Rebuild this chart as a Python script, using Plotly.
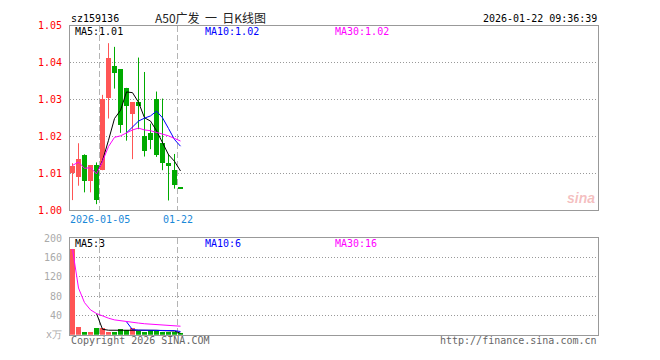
import plotly.graph_objects as go

# ---------------- data ----------------
dates = ["2025-12-25", "2025-12-26", "2025-12-29", "2025-12-30", "2025-12-31",
         "2026-01-05", "2026-01-06", "2026-01-07", "2026-01-08", "2026-01-09",
         "2026-01-12", "2026-01-13", "2026-01-14", "2026-01-15", "2026-01-16",
         "2026-01-19", "2026-01-20", "2026-01-21", "2026-01-22"]
open_ = [1.0102, 1.0091, 1.0152, 1.0080, 1.0124, 1.0111, 1.0304, 1.0393, 1.0383, 1.0332,
         1.0262, 1.0293, 1.0201, 1.0211, 1.0303, 1.0182, 1.0130, 1.0111, 1.0061]
high = [1.0128, 1.0182, 1.0152, 1.0123, 1.0130, 1.0313, 1.0453, 1.0443, 1.0383, 1.0332,
        1.0293, 1.0414, 1.0375, 1.0235, 1.0322, 1.0303, 1.0153, 1.0153, 1.0061]
low = [1.0028, 1.0067, 1.0049, 1.0049, 1.0017, 1.0109, 1.0249, 1.0330, 1.0210, 1.0189,
       1.0139, 1.0220, 1.0146, 1.0166, 1.0145, 1.0109, 1.0027, 1.0059, 1.0061]
close = [1.0122, 1.0140, 1.0080, 1.0123, 1.0030, 1.0303, 1.0414, 1.0374, 1.0233, 1.0283,
         1.0293, 1.0283, 1.0161, 1.0190, 1.0151, 1.0130, 1.0122, 1.0070, 1.0061]
ma5 = [None, None, None, None, 1.0099, 1.0135, 1.0190, 1.0249, 1.0271, 1.0321,
       1.0319, 1.0293, 1.0251, 1.0242, 1.0216, 1.0183, 1.0151, 1.0133, 1.0107]
ma10 = [None, None, None, None, None, None, None, None, None, 1.0210,
        1.0227, 1.0242, 1.0250, 1.0256, 1.0269, 1.0251, 1.0222, 1.0192, 1.0174]
ma30 = [1.0122, 1.0131, 1.0114, 1.0116, 1.0099, 1.0133, 1.0173, 1.0198, 1.0202, 1.0210,
        1.0218, 1.0223, 1.0218, 1.0216, 1.0212, 1.0207, 1.0202, 1.0195, 1.0188]

volume = [177, 16, 6, 6, 14, 14, 6, 6, 12, 9, 14, 8, 6, 9, 8, 6, 6, 6, 3]
vma5 = [None, None, None, None, 43.8, 11.2, 9.2, 9.2, 10.4, 9.4,
        9.4, 9.8, 9.8, 9.2, 9.0, 8.4, 8.0, 7.6, 3.0]
vma10 = [None, None, None, None, None, None, None, None, None, 26.6,
         10.3, 9.5, 9.5, 9.8, 9.2, 8.4, 8.4, 8.4, 6.5]
vma30 = [177, 96.5, 66.3, 51.3, 43.8, 38.8, 34.1, 30.6, 28.6, 26.6,
         25.5, 24.0, 22.6, 21.6, 20.7, 19.8, 19.0, 18.3, 17.5]

price_ticks = [1.00, 1.01, 1.02, 1.03, 1.04, 1.05]
vol_ticks = [0, 40, 80, 120, 160, 200]
vol_tick_text = ["x万", "40", "80", "120", "160", "200"]
marked_dates = ["2026-01-05", "2026-01-22"]
marked_labels = ["2026-01-05", "01-22"]

# ---------------- styling ----------------
W, H = 660, 360
RED = "#ff5555"
GREEN = "#00aa00"
FRAME = "#999999"
GRID = "#999999"
MONO = "DejaVu Sans Mono, Liberation Mono, monospace"


def px(x):
    return x / W


def py(y):
    return 1 - y / H


n = len(close)
xs = list(range(n))
colors = []
for i in range(n):
    if close[i] > open_[i]:
        colors.append(RED)
    elif close[i] < open_[i]:
        colors.append(GREEN)
    else:
        colors.append(RED if i > 0 and close[i] >= close[i - 1] else GREEN)

body_base = []
body_h = []
for o, c in zip(open_, close):
    lo, hi = min(o, c), max(o, c)
    if hi - lo < 0.00026:
        lo = c - 0.00013
        hi = c + 0.00013
    body_base.append(lo)
    body_h.append(hi - lo)

fig = go.Figure()

# wicks
for col in (RED, GREEN):
    wx, wy = [], []
    for i in range(n):
        if colors[i] == col and high[i] > low[i]:
            wx += [xs[i], xs[i], None]
            wy += [low[i], high[i], None]
    fig.add_trace(go.Scatter(x=wx, y=wy, mode="lines", line=dict(color=col, width=1),
                             xaxis="x", yaxis="y", hoverinfo="skip", showlegend=False))

# bodies
fig.add_trace(go.Bar(x=xs, y=body_h, base=body_base, width=5 / 6, marker=dict(color=colors, line=dict(width=0)),
                     xaxis="x", yaxis="y", showlegend=False, hoverinfo="skip"))

# price MAs
for arr, col in ((ma5, "#000000"), (ma10, "#0000ff"), (ma30, "#ff00ff")):
    fig.add_trace(go.Scatter(x=xs, y=arr, mode="lines", line=dict(color=col, width=1),
                             xaxis="x", yaxis="y", hoverinfo="skip", showlegend=False))

# volume
fig.add_trace(go.Bar(x=xs, y=volume, width=5 / 6, marker=dict(color=colors, line=dict(width=0)),
                     xaxis="x2", yaxis="y2", showlegend=False, hoverinfo="skip"))
for arr, col in ((vma5, "#000000"), (vma10, "#0000ff"), (vma30, "#ff00ff")):
    fig.add_trace(go.Scatter(x=xs, y=arr, mode="lines", line=dict(color=col, width=1),
                             xaxis="x2", yaxis="y2", hoverinfo="skip", showlegend=False))

# x positions: candle i occupies px 70+6i .. 75+6i ; center = 72.5+6i
x_left, x_right = 70, 598
xr = [(x_left - 72.5) / 6, (x_right - 72.5) / 6]
mark_idx = [dates.index(d) for d in marked_dates]
mark_x = [i - 0.42 for i in mark_idx]

xaxis_common = dict(range=xr, domain=[px(x_left), px(x_right)], showline=True, mirror=True,
                    linecolor=FRAME, linewidth=1, tickvals=mark_x, showticklabels=False,
                    ticks="", showgrid=True, gridcolor="#b4b4b4", griddash="6px,3px", gridwidth=1,
                    zeroline=False, fixedrange=True)

fig.update_layout(
    width=W, height=H, margin=dict(l=0, r=0, t=0, b=0),
    paper_bgcolor="white", plot_bgcolor="white", barmode="overlay", bargap=0,
    showlegend=False,
    xaxis=dict(**xaxis_common, anchor="y"),
    xaxis2=dict(**xaxis_common, anchor="y2"),
    yaxis=dict(range=[1.00, 1.05], domain=[py(211.5), py(20.5)], showline=True, mirror=True,
               linecolor=FRAME, linewidth=1, tickvals=price_ticks,
               ticktext=["%.2f" % v for v in price_ticks],
               tickfont=dict(family=MONO, size=10, color="#ff0000"), ticks="",
               ticklabelstandoff=5, showgrid=True, gridcolor=GRID, griddash="1px,2px",
               zeroline=False, anchor="x", fixedrange=True),
    yaxis2=dict(range=[0, 200], domain=[py(340), py(240)], showline=True, mirror=True,
                linecolor=FRAME, linewidth=1, tickvals=vol_ticks, ticktext=vol_tick_text,
                tickfont=dict(family=MONO, size=10, color="#aaaaaa"), ticks="",
                ticklabelstandoff=5, showgrid=True, gridcolor=GRID, griddash="1px,2px",
                zeroline=False, anchor="x2", fixedrange=True),
)


def txt(x, y, s, color="#000000", size=10, anchor="left", family=MONO, **kw):
    fig.add_annotation(x=px(x), y=py(y), xref="paper", yref="paper", text=s, showarrow=False,
                       xanchor=anchor, yanchor="middle", font=dict(family=family, size=size, color=color),
                       borderpad=0, **kw)


txt(70, 13, "sz159136")
txt(210, 11.5, "A50广发&nbsp;&nbsp;一&nbsp;&nbsp;日K线图", color="#222222", size=12,
    anchor="center", family="Noto Sans CJK SC, sans-serif")
txt(598, 13, "2026-01-22 09:36:39", anchor="right")

txt(74, 26, "MA5:%.2f" % ma5[-1], "#000000")
txt(204, 26, "MA10:%.2f" % ma10[-1], "#0000ff")
txt(334, 26, "MA30:%.2f" % ma30[-1], "#ff00ff")

txt(74, 246, "MA5:3", "#000000")
txt(204, 246, "MA10:6", "#0000ff")
txt(334, 246, "MA30:16", "#ff00ff")

for mx, lab in zip(mark_x, marked_labels):
    fig.add_annotation(x=mx, y=py(220.5), xref="x", yref="paper", text=lab, showarrow=False,
                       xanchor="center", yanchor="middle",
                       font=dict(family=MONO, size=10, color="#1a88d8"))

txt(70, 346, "Copyright 2026 SINA.COM", "#666666")
txt(598, 346, "http://finance.sina.com.cn", "#666666", anchor="right")

# faint sina watermark
txt(596, 199, "<b><i>sina</i></b>", "rgba(225,70,70,0.35)", size=14, anchor="right",
    family="Liberation Sans, sans-serif")

fig.write_html("out.html", config={"displayModeBar": False})
